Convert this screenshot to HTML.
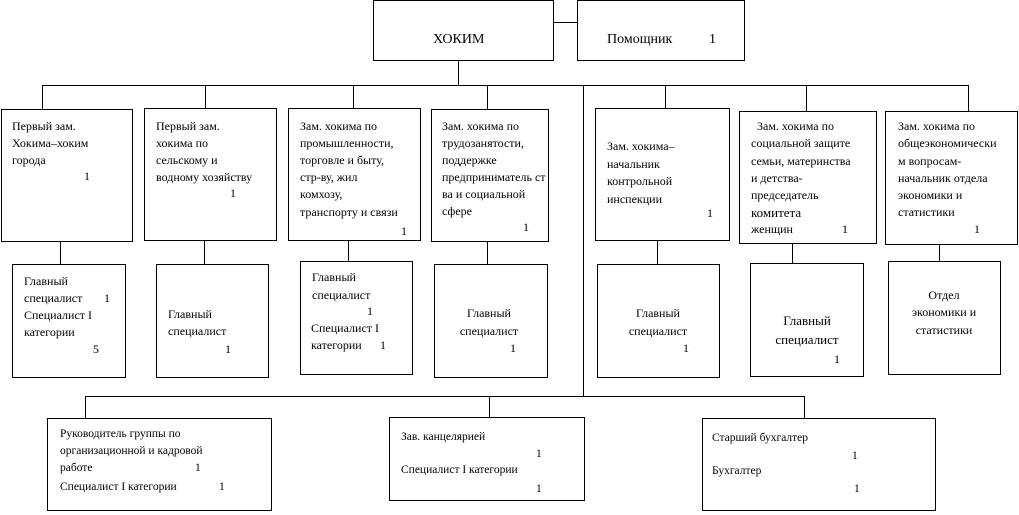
<!DOCTYPE html>
<html><head><meta charset="utf-8"><style>
body{margin:0;width:1019px;height:515px;background:#fff;position:relative;overflow:hidden;font-family:"Liberation Serif",serif;font-size:12px;color:#000}
.b{position:absolute;border:1px solid #000;box-sizing:border-box}
.h{position:absolute;height:1px;background:#000}
.v{position:absolute;width:1px;background:#000}
.t{position:absolute;white-space:nowrap;line-height:14px;transform:translateY(-7px)}
.c{transform:translate(-50%,-7px)}
.s{font-size:11.5px}
</style></head><body>
<!-- boxes -->
<div class="b" style="left:373px;top:0;width:181px;height:61px"></div>
<div class="b" style="left:577px;top:0;width:168px;height:61px"></div>
<div class="b" style="left:1px;top:109px;width:132px;height:133px"></div>
<div class="b" style="left:144px;top:108px;width:133px;height:133px"></div>
<div class="b" style="left:288px;top:108px;width:133px;height:133px"></div>
<div class="b" style="left:431px;top:109px;width:118px;height:133px"></div>
<div class="b" style="left:595px;top:108px;width:135px;height:133px"></div>
<div class="b" style="left:739px;top:111px;width:138px;height:133px"></div>
<div class="b" style="left:885px;top:111px;width:133px;height:134px"></div>
<div class="b" style="left:12px;top:264px;width:114px;height:114px"></div>
<div class="b" style="left:156px;top:264px;width:113px;height:114px"></div>
<div class="b" style="left:300px;top:261px;width:113px;height:114px"></div>
<div class="b" style="left:434px;top:264px;width:114px;height:114px"></div>
<div class="b" style="left:597px;top:264px;width:123px;height:114px"></div>
<div class="b" style="left:750px;top:263px;width:114px;height:114px"></div>
<div class="b" style="left:888px;top:261px;width:113px;height:114px"></div>
<div class="b" style="left:47px;top:418px;width:225px;height:93px"></div>
<div class="b" style="left:389px;top:417px;width:196px;height:84px"></div>
<div class="b" style="left:702px;top:418px;width:234px;height:93px"></div>
<!-- lines -->
<div class="h" style="left:553px;top:22px;width:24px"></div>
<div class="v" style="left:458px;top:60px;height:25px"></div>
<div class="h" style="left:42px;top:85px;width:927px"></div>
<div class="v" style="left:42px;top:85px;height:24px"></div>
<div class="v" style="left:205px;top:85px;height:23px"></div>
<div class="v" style="left:353px;top:85px;height:23px"></div>
<div class="v" style="left:487px;top:85px;height:24px"></div>
<div class="v" style="left:665px;top:85px;height:23px"></div>
<div class="v" style="left:806px;top:85px;height:26px"></div>
<div class="v" style="left:968px;top:85px;height:26px"></div>
<div class="v" style="left:583px;top:85px;height:311px"></div>
<div class="v" style="left:60px;top:241px;height:23px"></div>
<div class="v" style="left:204px;top:240px;height:24px"></div>
<div class="v" style="left:348px;top:240px;height:21px"></div>
<div class="v" style="left:487px;top:241px;height:23px"></div>
<div class="v" style="left:657px;top:240px;height:24px"></div>
<div class="v" style="left:792px;top:243px;height:20px"></div>
<div class="v" style="left:939px;top:244px;height:17px"></div>
<div class="h" style="left:85px;top:396px;width:720px"></div>
<div class="v" style="left:85px;top:396px;height:22px"></div>
<div class="v" style="left:489px;top:396px;height:21px"></div>
<div class="v" style="left:804px;top:396px;height:22px"></div>
<!-- top text -->
<div class="t" style="left:433px;top:40px;font-size:14px">ХОКИМ</div>
<div class="t" style="left:607px;top:40px;font-size:14px">Помощник</div>
<div class="t" style="left:709px;top:40px;font-size:14px">1</div>
<!-- row1 -->
<div class="t" style="left:12px;top:126px">Первый зам.</div>
<div class="t" style="left:12px;top:143px">Хокима–хоким</div>
<div class="t" style="left:12px;top:160px">города</div>
<div class="t" style="left:84px;top:176px">1</div>

<div class="t" style="left:156px;top:126px">Первый зам.</div>
<div class="t" style="left:156px;top:143px">хокима по</div>
<div class="t" style="left:156px;top:160px">сельскому и</div>
<div class="t" style="left:156px;top:177px">водному хозяйству</div>
<div class="t" style="left:230px;top:193px">1</div>

<div class="t" style="left:300px;top:126px">Зам. хокима по</div>
<div class="t" style="left:300px;top:143px">промышленности,</div>
<div class="t" style="left:300px;top:160px">торговле и быту,</div>
<div class="t" style="left:300px;top:177px">стр-ву, жил</div>
<div class="t" style="left:300px;top:194px">комхозу,</div>
<div class="t" style="left:300px;top:212px">транспорту и связи</div>
<div class="t" style="left:401px;top:231px">1</div>

<div class="t" style="left:442px;top:126px">Зам. хокима по</div>
<div class="t" style="left:442px;top:143px">трудозанятости,</div>
<div class="t" style="left:442px;top:160px">поддержке</div>
<div class="t" style="left:442px;top:177px">предприниматель ст</div>
<div class="t" style="left:442px;top:194px">ва и социальной</div>
<div class="t" style="left:442px;top:211px">сфере</div>
<div class="t" style="left:523px;top:227px">1</div>

<div class="t" style="left:607px;top:146px">Зам. хокима–</div>
<div class="t" style="left:607px;top:164px">начальник</div>
<div class="t" style="left:607px;top:181px">контрольной</div>
<div class="t" style="left:607px;top:199px">инспекции</div>
<div class="t" style="left:707px;top:213px">1</div>

<div class="t" style="left:757px;top:126px">Зам. хокима по</div>
<div class="t" style="left:751px;top:143px">социальной защите</div>
<div class="t" style="left:751px;top:161px">семьи, материнства</div>
<div class="t" style="left:751px;top:178px">и детства-</div>
<div class="t" style="left:751px;top:195px">председатель</div>
<div class="t" style="left:751px;top:213px;font-size:13px">комитета</div>
<div class="t" style="left:751px;top:229px">женщин</div>
<div class="t" style="left:842px;top:229px">1</div>

<div class="t" style="left:898px;top:126px">Зам. хокима по</div>
<div class="t" style="left:898px;top:143px">общеэкономически</div>
<div class="t" style="left:898px;top:161px">м вопросам-</div>
<div class="t" style="left:898px;top:178px">начальник отдела</div>
<div class="t" style="left:898px;top:195px">экономики и</div>
<div class="t" style="left:898px;top:212px">статистики</div>
<div class="t" style="left:974px;top:229px">1</div>
<!-- row2 -->
<div class="t" style="left:24px;top:281px">Главный</div>
<div class="t" style="left:24px;top:298px">специалист</div>
<div class="t" style="left:104px;top:298px">1</div>
<div class="t" style="left:24px;top:315px">Специалист I</div>
<div class="t" style="left:24px;top:332px">категории</div>
<div class="t" style="left:93px;top:349px">5</div>

<div class="t" style="left:168px;top:314px">Главный</div>
<div class="t" style="left:168px;top:331px">специалист</div>
<div class="t" style="left:225px;top:349px">1</div>

<div class="t" style="left:312px;top:277px">Главный</div>
<div class="t" style="left:312px;top:295px">специалист</div>
<div class="t" style="left:367px;top:311px">1</div>
<div class="t" style="left:311px;top:328px">Специалист I</div>
<div class="t" style="left:311px;top:345px">категории</div>
<div class="t" style="left:380px;top:345px">1</div>

<div class="t c" style="left:489px;top:313px">Главный</div>
<div class="t c" style="left:489px;top:331px">специалист</div>
<div class="t" style="left:510px;top:348px">1</div>

<div class="t c" style="left:658px;top:313px">Главный</div>
<div class="t c" style="left:658px;top:331px">специалист</div>
<div class="t" style="left:683px;top:348px">1</div>

<div class="t c" style="left:807px;top:321px;font-size:13px">Главный</div>
<div class="t c" style="left:807px;top:340px;font-size:13px">специалист</div>
<div class="t" style="left:834px;top:359px">1</div>

<div class="t c" style="left:944px;top:295px">Отдел</div>
<div class="t c" style="left:944px;top:312px">экономики и</div>
<div class="t c" style="left:944px;top:330px">статистики</div>
<!-- bottom -->
<div class="t s" style="left:60px;top:434px">Руководитель группы по</div>
<div class="t s" style="left:60px;top:451px">организационной и кадровой</div>
<div class="t s" style="left:60px;top:468px">работе</div>
<div class="t s" style="left:195px;top:468px">1</div>
<div class="t s" style="left:60px;top:487px">Специалист I категории</div>
<div class="t s" style="left:219px;top:487px">1</div>

<div class="t s" style="left:401px;top:437px">Зав. канцелярией</div>
<div class="t s" style="left:536px;top:454px">1</div>
<div class="t s" style="left:401px;top:470px">Специалист I категории</div>
<div class="t s" style="left:536px;top:489px">1</div>

<div class="t s" style="left:712px;top:438px">Старший бухгалтер</div>
<div class="t s" style="left:852px;top:456px">1</div>
<div class="t s" style="left:712px;top:471px">Бухгалтер</div>
<div class="t s" style="left:854px;top:489px">1</div>
</body></html>
